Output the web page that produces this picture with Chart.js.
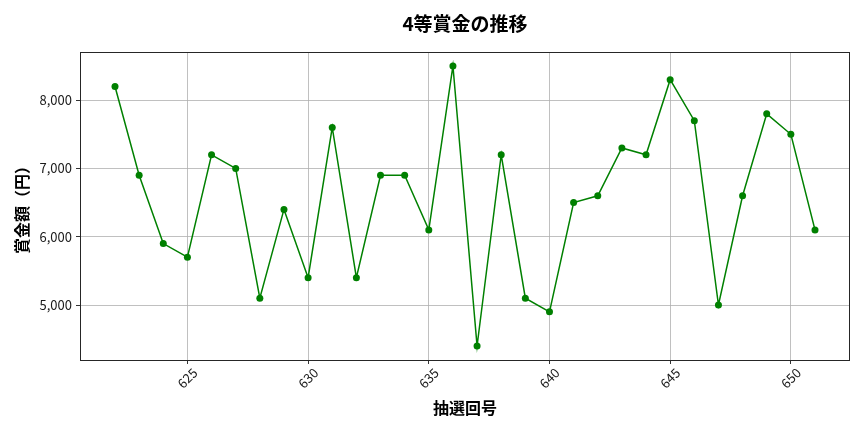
<!DOCTYPE html>
<html>
<head>
<meta charset="utf-8">
<script src="https://cdn.jsdelivr.net/npm/chart.js@4/dist/chart.umd.min.js"></script>
<style>
  html, body { margin: 0; padding: 0; background: #fff; }
  #wrap { width: 864px; height: 432px; position: relative; }
</style>
</head>
<body>
<div id="wrap"><canvas id="c" width="864" height="432"></canvas></div>
<script>
const chartTitle = '4等賞金の推移';
const xTitle = '抽選回号';
const yTitle = '賞金額（円）';
const draws = [622,623,624,625,626,627,628,629,630,631,632,633,634,635,636,637,638,639,640,641,642,643,644,645,646,647,648,649,650,651];
const prizes = [8200,6900,5900,5700,7200,7000,5100,6400,5400,7600,5400,6900,6900,6100,8500,4400,7200,5100,4900,6500,6600,7300,7200,8300,7700,5000,6600,7800,7500,6100];
const xTicks = [625,630,635,640,645,650];
const yTicks = [5000,6000,7000,8000];
const xRange = [620.55, 652.45];
const yRange = [4195, 8705];

const FONT = '"Noto Sans CJK JP", "Noto Sans", sans-serif';

const overlay = {
  id: 'overlay',
  afterDraw(chart) {
    const {ctx, chartArea: a, scales: {x}} = chart;
    ctx.save();
    ctx.strokeStyle = '#262626';
    ctx.lineWidth = 1;
    ctx.strokeRect(Math.round(a.left) + 0.5, Math.round(a.top) + 0.5,
                   Math.round(a.right - a.left) - 1, Math.round(a.bottom - a.top));
    ctx.fillStyle = '#1a1a1a';
    ctx.font = '13px ' + FONT;
    ctx.textAlign = 'center';
    ctx.textBaseline = 'middle';
    x.ticks.forEach(t => {
      const px = x.getPixelForValue(t.value);
      ctx.save();
      ctx.translate(px, a.bottom + 18);
      ctx.rotate(-Math.PI / 4);
      ctx.fillText(String(t.value), 0, 0);
      ctx.restore();
    });
    const cx = (a.left + a.right) / 2;
    ctx.fillStyle = '#000';
    ctx.font = 'bold 19px ' + FONT;
    ctx.fillText(chartTitle, cx, 24);
    ctx.font = 'bold 16px ' + FONT;
    ctx.fillText(xTitle, cx, 408);
    ctx.save();
    ctx.translate(22, (a.top + a.bottom) / 2);
    ctx.rotate(-Math.PI / 2);
    ctx.fillText(yTitle, 0, 0);
    ctx.restore();
    ctx.restore();
  }
};

new Chart(document.getElementById('c'), {
  type: 'line',
  data: {
    datasets: [{
      data: draws.map((d, i) => ({x: d, y: prizes[i]})),
      borderColor: '#008000',
      backgroundColor: '#008000',
      borderWidth: 1.5,
      pointRadius: 3.5,
      pointBackgroundColor: '#008000',
      pointBorderColor: '#008000',
      pointBorderWidth: 0,
      tension: 0,
      fill: false
    }]
  },
  options: {
    responsive: false,
    animation: false,
    devicePixelRatio: 1,
    layout: { padding: { top: 52, right: 14, left: 0, bottom: 0 } },
    plugins: { legend: { display: false }, title: { display: false }, tooltip: { enabled: false } },
    scales: {
      x: {
        type: 'linear',
        min: xRange[0], max: xRange[1],
        afterBuildTicks: s => { s.ticks = xTicks.map(v => ({value: v})); },
        afterFit: s => { s.height = 72; },
        ticks: { display: false, autoSkip: false },
        grid: { color: '#b0b0b0', lineWidth: 0.8, drawTicks: true, tickLength: 4, tickColor: '#333', tickWidth: 1 },
        border: { display: false }
      },
      y: {
        type: 'linear',
        min: yRange[0], max: yRange[1],
        afterBuildTicks: s => { s.ticks = yTicks.map(v => ({value: v})); },
        afterFit: s => { s.width = 80; },
        ticks: {
          color: '#1a1a1a',
          font: { family: FONT, size: 13 },
          padding: 4,
          callback: v => Number(v).toLocaleString('en-US')
        },
        grid: { color: '#b0b0b0', lineWidth: 0.8, drawTicks: true, tickLength: 4, tickColor: '#333', tickWidth: 1 },
        border: { display: false }
      }
    }
  },
  plugins: [overlay]
});
</script>
</body>
</html>
